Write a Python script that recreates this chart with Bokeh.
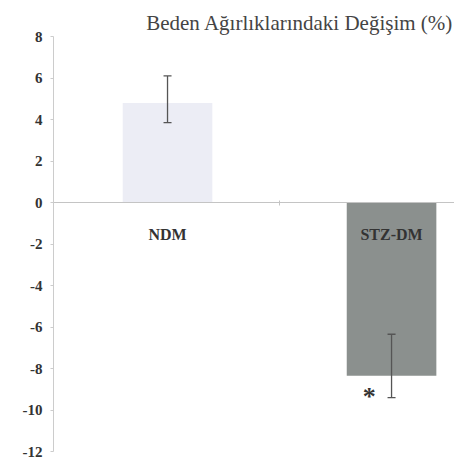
from bokeh.plotting import figure
from bokeh.models import ColumnDataSource, FixedTicker, Whisker, TeeHead, Range1d
from bokeh.core.properties import value
from bokeh.embed import file_html
from bokeh.resources import INLINE

categories = ["NDM", "STZ-DM"]
means = [4.8, -8.35]
err_lower = [3.85, -9.4]
err_upper = [6.1, -6.35]
bar_colors = ["#ECEDF5", "#8B908E"]
y_ticks = [-12, -10, -8, -6, -4, -2, 0, 2, 4, 6, 8]
title_text = "Beden Ağırlıklarındaki Değişim (%)"

SERIF = "'Liberation Serif', 'Times New Roman', serif"

xs = list(range(len(categories)))
src = ColumnDataSource(dict(x=xs, top=means, lower=err_lower, upper=err_upper, color=bar_colors))

p = figure(width=454, height=464, output_backend="svg", toolbar_location=None,
           x_range=Range1d(-0.509, 1.281), y_range=Range1d(-12, 8),
           min_border_left=53, min_border_right=0, min_border_top=36, min_border_bottom=13,
           frame_width=401, frame_height=415)
p.outline_line_color = None
p.xgrid.visible = False
p.ygrid.visible = False
p.background_fill_color = "white"

p.title.text = title_text
p.title.align = "right"
p.title.text_font = SERIF
p.title.text_font_style = "normal"
p.title.text_font_size = "21px"
p.title.text_color = "#444444"
p.title.standoff = 0
p.title.vertical_align = "top"
p.title.offset = 1

p.vbar(x="x", top="top", bottom=0, width=0.40, fill_color="color", line_color=None, source=src)

w = Whisker(source=src, base="x", lower="lower", upper="upper", line_color="#555555", line_width=1.3,
            upper_head=TeeHead(size=8, line_color="#555555", line_width=1.3),
            lower_head=TeeHead(size=8, line_color="#555555", line_width=1.3), level="overlay")
p.add_layout(w)

# y axis
ya = p.yaxis[0]
ya.ticker = FixedTicker(ticks=y_ticks)
ya.major_label_overrides = {t: str(t) for t in y_ticks}
ya.axis_line_color = "#cccccc"
ya.major_tick_line_color = "#cccccc"
ya.major_tick_in = 0
ya.major_tick_out = 3
ya.minor_tick_line_color = None
ya.major_label_text_font = SERIF
ya.major_label_text_font_style = "bold"
ya.major_label_text_font_size = "15px"
ya.major_label_text_color = "#333333"
ya.major_label_standoff = 8

# x axis at zero
xa = p.xaxis[0]
xa.fixed_location = 0
xa.ticker = FixedTicker(ticks=xs, minor_ticks=[0.5])
xa.major_label_overrides = {i: c for i, c in zip(xs, categories)}
xa.axis_line_color = "#c4c4c4"
xa.major_tick_line_color = None
xa.minor_tick_line_color = "#c4c4c4"
xa.minor_tick_in = 2
xa.minor_tick_out = 3
xa.major_label_text_font = SERIF
xa.major_label_text_font_style = "bold"
xa.major_label_text_font_size = "16px"
xa.major_label_text_color = "#333333"
xa.major_label_standoff = 17

# significance asterisk next to STZ-DM lower whisker
p.text(x=[xs[1] - 0.1], y=[err_lower[1] + 0.05], text=["*"], text_align="center", text_baseline="middle",
       text_font=value(SERIF), text_font_size="26px", text_font_style="bold", text_color="#333333")

open("out.html", "w").write(file_html(p, INLINE))
